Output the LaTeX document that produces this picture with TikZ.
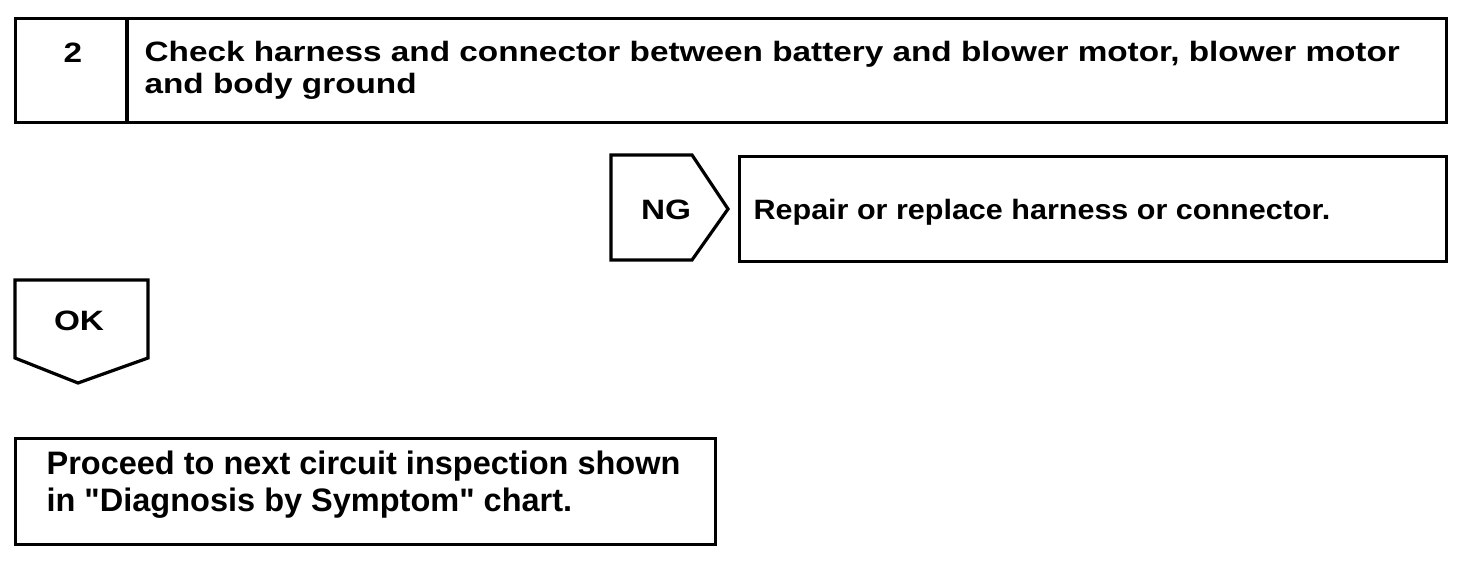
\documentclass[tikz,border=0pt]{standalone}
\usepackage{fontspec}
\setmainfont{Liberation Sans}
\newfontfamily\widefont[FakeStretch=1.19]{Liberation Sans}
\newfontfamily\midfont[FakeStretch=1.09]{Liberation Sans}
\newfontfamily\plainfont{Liberation Sans}
\begin{document}
\begin{tikzpicture}[x=1pt,y=-1pt,line width=3.2pt,
  txt/.style={font=\widefont\bfseries\fontsize{28}{32}\selectfont,inner sep=0pt,anchor=base west},
  rtxt/.style={font=\midfont\bfseries\fontsize{28}{32}\selectfont,inner sep=0pt,anchor=base west},
  ptxt/.style={font=\plainfont\bfseries\fontsize{32.5}{36}\selectfont,inner sep=0pt,anchor=base west},
  lbl/.style={font=\widefont\bfseries\fontsize{28}{32}\selectfont,inner sep=0pt},
  boxshape/.style={draw,inner sep=0pt,anchor=north west}]
\useasboundingbox (0,0) rectangle (1472,564);
% step box
\node[boxshape,minimum width=1431pt,minimum height=104pt] (stepbox) at (14,17) {};
\coordinate (divtop) at (127,17);
\coordinate (divbot) at (127,121);
\draw (divtop) -- (divbot);
\node[lbl] (num) at (73,53) {2};
\node[txt] (t1) at (143,62) {Check harness and connector between battery and blower motor, blower motor};
\node[txt] (t2) at (143,94) {and body ground};
% NG
\draw (611,155) -- (692,155) -- (728,209) -- (692,260) -- (611,260) -- cycle;
\node[lbl] (ng) at (666,210) {NG};
\node[boxshape,minimum width=707pt,minimum height=105pt] (repair) at (738,155) {};
\node[rtxt] (rt) at (752,219) {Repair or replace harness or connector.};
% OK
\draw (15,280) -- (148,280) -- (148,358) -- (78,383) -- (15,358) -- cycle;
\node[lbl] (ok) at (79,321) {OK};
% Proceed
\node[boxshape,minimum width=700pt,minimum height=106pt] (proceed) at (14,437) {};
\node[ptxt] (p1) at (45,474) {Proceed to next circuit inspection shown};
\node[ptxt] (p2) at (45,511) {in \char34 Diagnosis by Symptom\char34\ chart.};
\end{tikzpicture}
\end{document}
